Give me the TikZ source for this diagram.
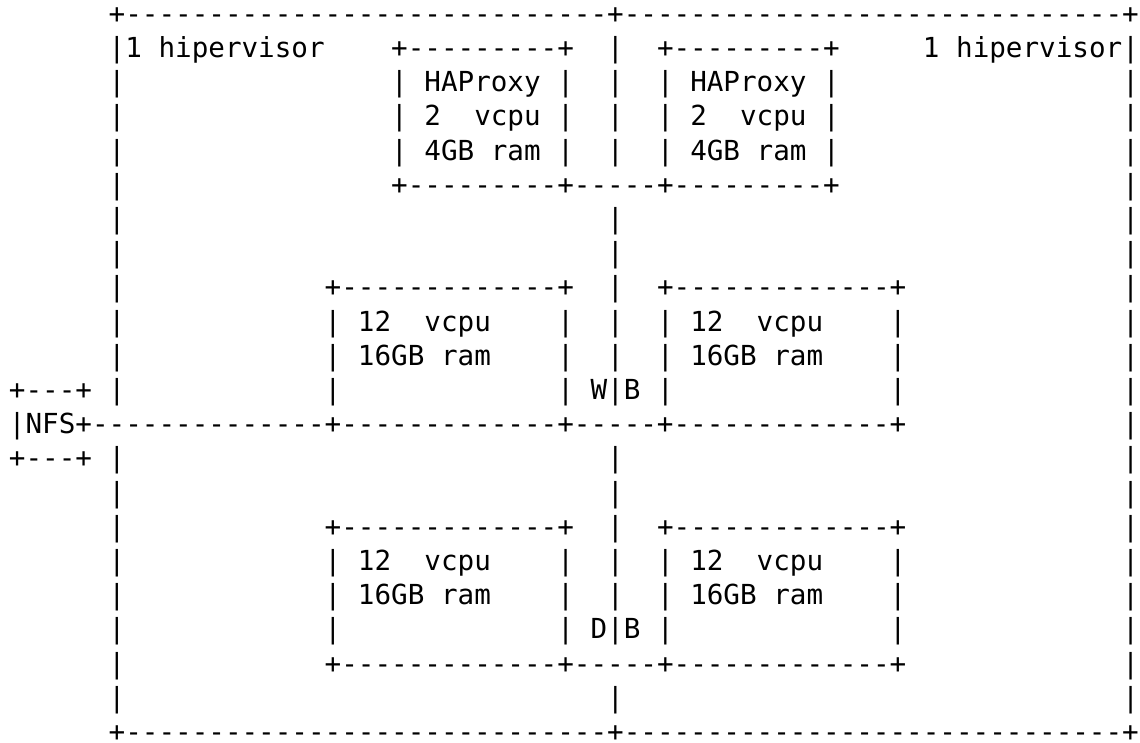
\documentclass[tikz,border=0pt]{standalone}
\usepackage{fontspec}
\newfontfamily\asciifont[Ligatures=TeXOff]{DejaVu Sans Mono}
\newlength\cw
\ExplSyntaxOn
\NewDocumentCommand\rep{mm}{\prg_replicate:nn{#1}{#2}}
\ExplSyntaxOff
\newcommand\G[1]{\hspace*{#1\cw}}
\newcommand\D[1]{\rep{#1}{\hbox{-}}}
\tikzset{
  ascii/.style={anchor=base west, inner sep=0pt, outer sep=0pt,
    font=\asciifont\fontsize{27.6}{34}\selectfont\settowidth{\cw}{0}},
  row/.style={at={(9,{719.7-34.2*#1})}}
}
\begin{document}
\begin{tikzpicture}[x=1pt,y=1pt]
\useasboundingbox[fill=white] (0,0) rectangle (1140,743);
\node[ascii,row=0]  (r0)  {\G{6}+\D{29}+\D{30}+};
\node[ascii,row=1]  (r1)  {\G{6}|1\G{1}hipervisor\G{4}+\D{9}+\G{2}|\G{2}+\D{9}+\G{5}1\G{1}hipervisor|};
\node[ascii,row=2]  (r2)  {\G{6}|\G{16}|\G{1}HAProxy\G{1}|\G{2}|\G{2}|\G{1}HAProxy\G{1}|\G{17}|};
\node[ascii,row=3]  (r3)  {\G{6}|\G{16}|\G{1}2\G{2}vcpu\G{1}|\G{2}|\G{2}|\G{1}2\G{2}vcpu\G{1}|\G{17}|};
\node[ascii,row=4]  (r4)  {\G{6}|\G{16}|\G{1}4GB\G{1}ram\G{1}|\G{2}|\G{2}|\G{1}4GB\G{1}ram\G{1}|\G{17}|};
\node[ascii,row=5]  (r5)  {\G{6}|\G{16}+\D{9}+\D{5}+\D{9}+\G{17}|};
\node[ascii,row=6]  (r6)  {\G{6}|\G{29}|\G{30}|};
\node[ascii,row=7]  (r7)  {\G{6}|\G{29}|\G{30}|};
\node[ascii,row=8]  (r8)  {\G{6}|\G{12}+\D{13}+\G{2}|\G{2}+\D{13}+\G{13}|};
\node[ascii,row=9]  (r9)  {\G{6}|\G{12}|\G{1}12\G{2}vcpu\G{4}|\G{2}|\G{2}|\G{1}12\G{2}vcpu\G{4}|\G{13}|};
\node[ascii,row=10] (r10) {\G{6}|\G{12}|\G{1}16GB\G{1}ram\G{4}|\G{2}|\G{2}|\G{1}16GB\G{1}ram\G{4}|\G{13}|};
\node[ascii,row=11] (r11) {+\D{3}+\G{1}|\G{12}|\G{13}|\G{1}W|B\G{1}|\G{13}|\G{13}|};
\node[ascii,row=12] (r12) {|NFS+\D{14}+\D{13}+\D{5}+\D{13}+\G{13}|};
\node[ascii,row=13] (r13) {+\D{3}+\G{1}|\G{29}|\G{30}|};
\node[ascii,row=14] (r14) {\G{6}|\G{29}|\G{30}|};
\node[ascii,row=15] (r15) {\G{6}|\G{12}+\D{13}+\G{2}|\G{2}+\D{13}+\G{13}|};
\node[ascii,row=16] (r16) {\G{6}|\G{12}|\G{1}12\G{2}vcpu\G{4}|\G{2}|\G{2}|\G{1}12\G{2}vcpu\G{4}|\G{13}|};
\node[ascii,row=17] (r17) {\G{6}|\G{12}|\G{1}16GB\G{1}ram\G{4}|\G{2}|\G{2}|\G{1}16GB\G{1}ram\G{4}|\G{13}|};
\node[ascii,row=18] (r18) {\G{6}|\G{12}|\G{13}|\G{1}D|B\G{1}|\G{13}|\G{13}|};
\node[ascii,row=19] (r19) {\G{6}|\G{12}+\D{13}+\D{5}+\D{13}+\G{13}|};
\node[ascii,row=20] (r20) {\G{6}|\G{29}|\G{30}|};
\node[ascii,row=21] (r21) {\G{6}+\D{29}+\D{30}+};
\end{tikzpicture}
\end{document}
